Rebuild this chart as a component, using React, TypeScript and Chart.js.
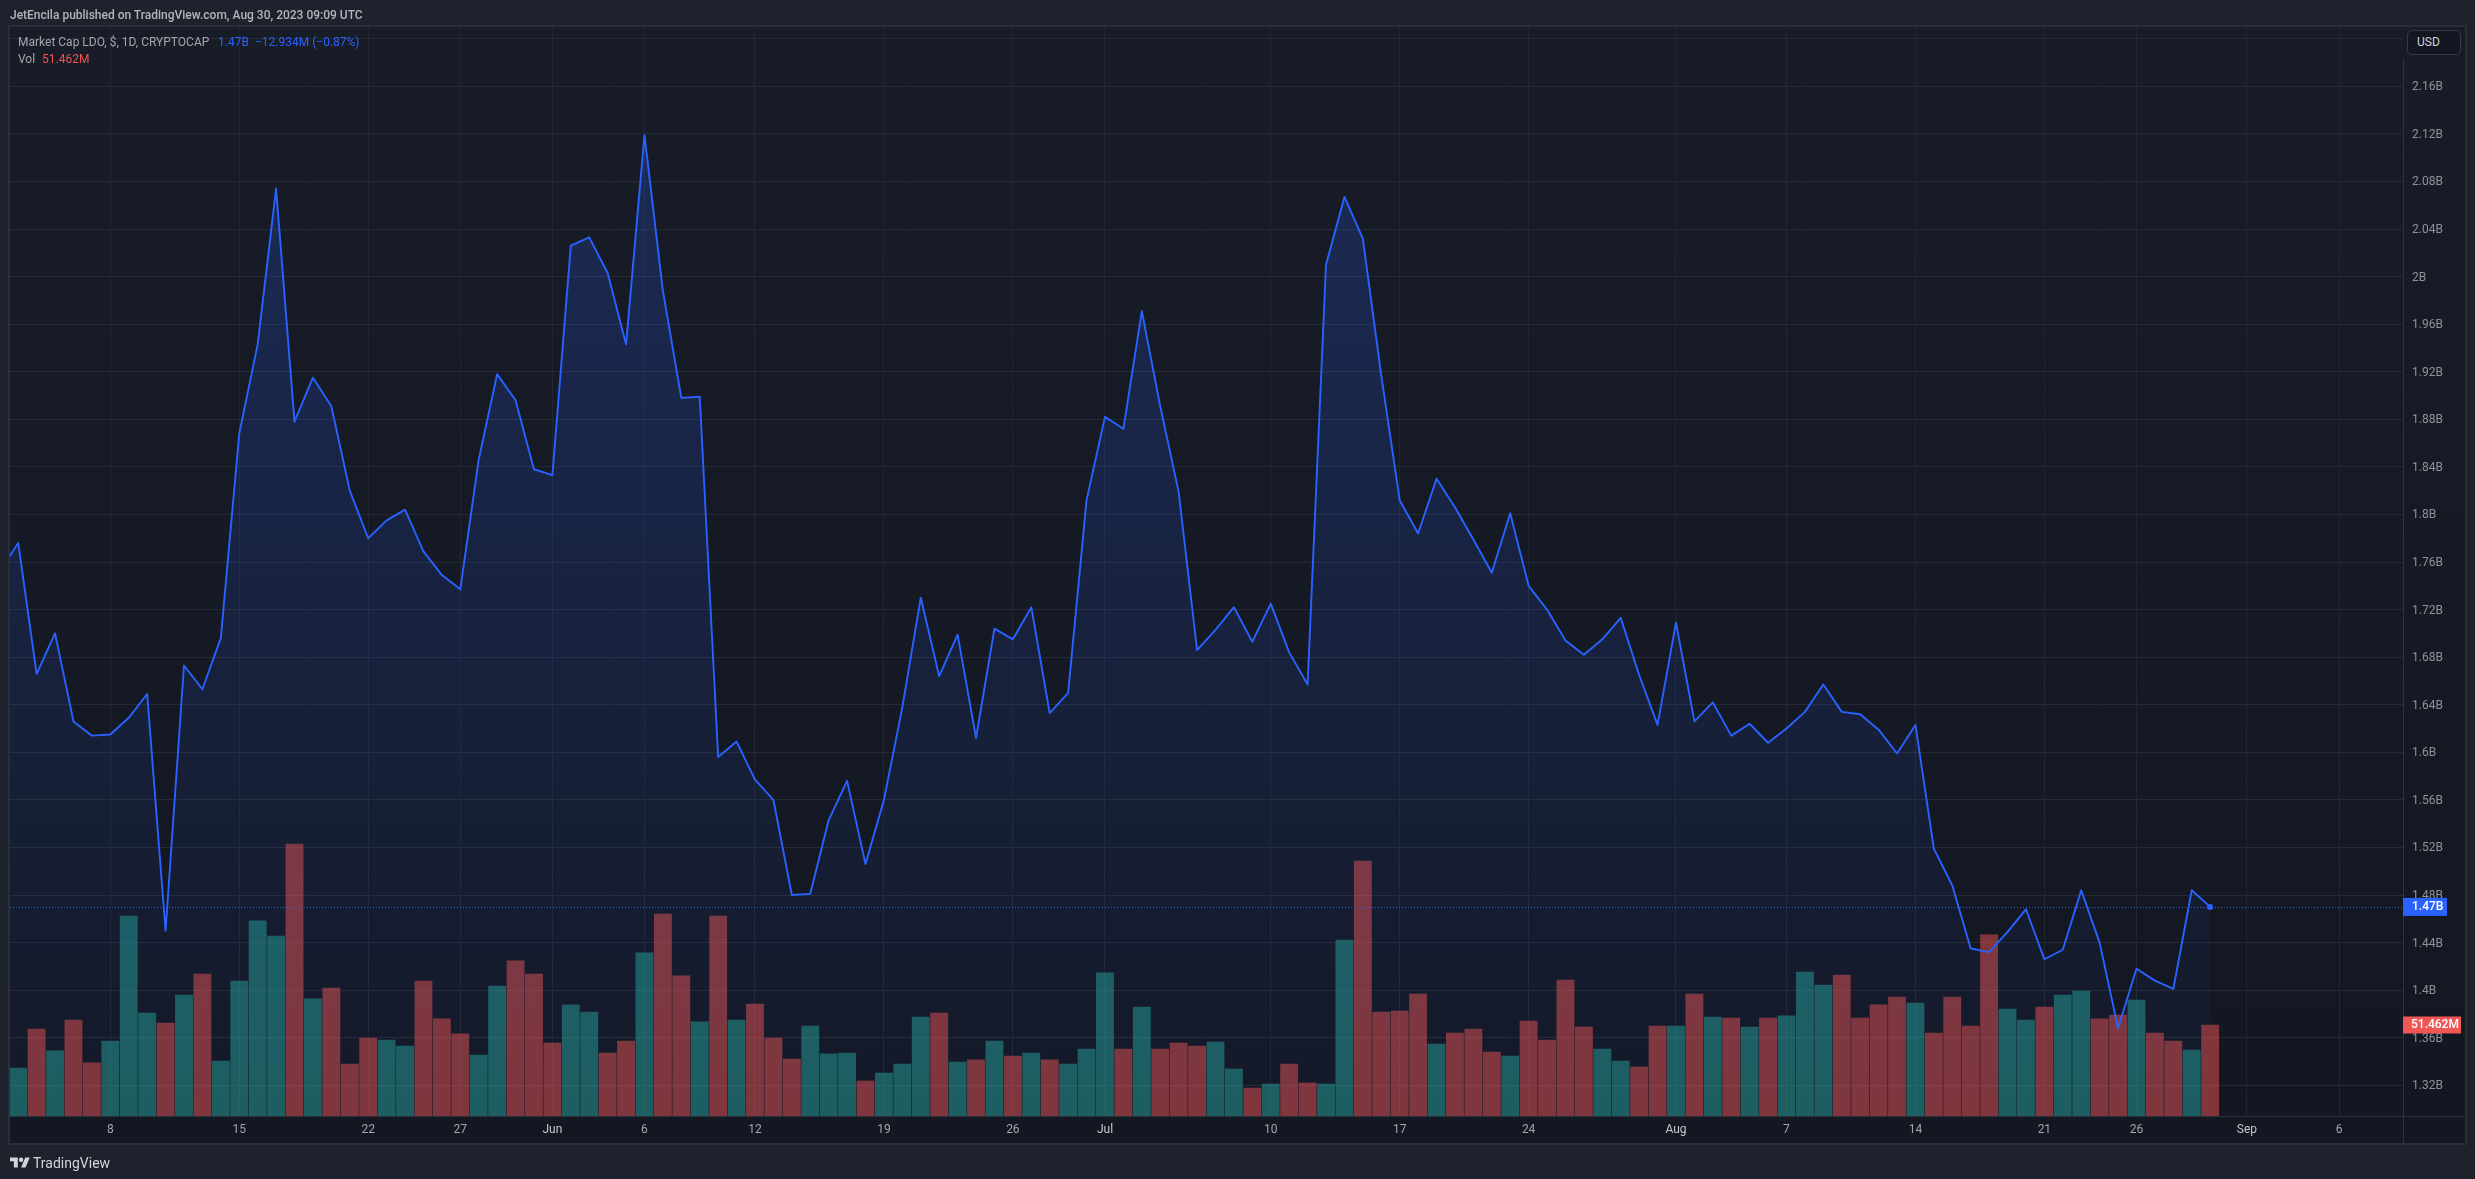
import React, { useEffect, useRef } from "react";
import { Chart, registerables } from "chart.js";

Chart.register(...registerables);

// Daily market cap in billions USD, May 2 to Aug 30 2023
const marketCap = [
  1.752, 1.776, 1.666, 1.7, 1.626, 1.614, 1.615, 1.629, 1.649, 1.45, 1.673, 1.653, 1.696, 1.868, 1.943, 2.074,
  1.878, 1.915, 1.891, 1.82, 1.78, 1.795, 1.804, 1.769, 1.749, 1.737, 1.846, 1.918, 1.896, 1.838, 1.833, 2.026,
  2.033, 2.003, 1.943, 2.119, 1.988, 1.898, 1.899, 1.596, 1.609, 1.577, 1.56, 1.48, 1.481, 1.543, 1.576, 1.506,
  1.56, 1.638, 1.73, 1.664, 1.699, 1.612, 1.704, 1.695, 1.722, 1.633, 1.65, 1.812, 1.882, 1.872, 1.971, 1.891,
  1.819, 1.686, 1.703, 1.722, 1.693, 1.725, 1.684, 1.657, 2.01, 2.067, 2.032, 1.917, 1.812, 1.784, 1.83, 1.806,
  1.779, 1.751, 1.801, 1.74, 1.72, 1.694, 1.682, 1.695, 1.713, 1.665, 1.623, 1.709, 1.626, 1.642, 1.614, 1.624,
  1.608, 1.62, 1.634, 1.657, 1.634, 1.632, 1.619, 1.599, 1.623, 1.519, 1.488, 1.435, 1.432, 1.449, 1.468, 1.426,
  1.434, 1.484, 1.44, 1.368, 1.418, 1.408, 1.401, 1.484, 1.47,
];

// Daily volume in millions USD, May 3 to Aug 30 2023
const volume = [
  27.1, 49.2, 36.8, 54.3, 30.0, 42.4, 113.1, 58.2, 52.6, 68.4, 80.3, 31.1, 76.3, 110.3, 101.8, 153.8, 66.2, 72.4,
  29.4, 44.1, 43.0, 39.6, 76.3, 54.9, 46.4, 34.5, 73.5, 87.7, 80.3, 41.3, 62.8, 58.8, 35.6, 42.4, 92.2, 114.2, 79.2,
  53.2, 113.1, 54.3, 63.3, 44.1, 32.2, 50.9, 35.1, 35.6, 19.8, 24.3, 29.4, 56.0, 58.2, 30.5, 31.7, 42.4, 33.9, 35.6,
  31.7, 29.4, 37.9, 80.9, 37.9, 61.6, 37.9, 41.3, 39.6, 41.8, 26.6, 15.8, 18.1, 29.4, 18.7, 18.1, 99.5, 144.2, 58.8,
  59.4, 69.0, 40.7, 46.9, 49.2, 36.2, 33.9, 53.7, 43.0, 76.9, 50.3, 37.9, 31.1, 27.7, 50.9, 50.9, 69.0, 56.0, 55.4,
  50.3, 55.4, 56.6, 81.4, 74.1, 79.7, 55.4, 62.8, 67.3, 63.9, 46.9, 67.3, 50.9, 102.4, 60.5, 54.3, 61.6, 68.4, 70.7,
  54.9, 57.1, 65.6, 46.9, 42.4, 37.3, 51.462,
];

// u = teal, d = red, one letter per volume bar
const volumeSide = (
  "ududduuudu" + "duuuududdd" + "uuddduuddd" + "uudduddudu" + "ddduuuduuu" + "dudududuuu" +
  "duddduudud" + "duuddddudd" + "dudddduudd" + "udududuuud" + "dddudddduu" + "duudduddud"
).split("");

const tickDays = [6, 13, 20, 25, 30, 35, 41, 48, 55, 60, 69, 76, 83, 91, 97, 104, 111, 116, 122, 127];
const tickLabels = ["8", "15", "22", "27", "Jun", "6", "12", "19", "26", "Jul", "10", "17", "24", "Aug", "7", "14", "21", "26", "Sep", "6"];
const monthLabels = ["Jun", "Jul", "Aug", "Sep"];

const priceTicks = [2.2, 2.16, 2.12, 2.08, 2.04, 2, 1.96, 1.92, 1.88, 1.84, 1.8, 1.76, 1.72, 1.68, 1.64, 1.6, 1.56, 1.52, 1.48, 1.44, 1.4, 1.36, 1.32];

const lastPrice = 1.47;
const lastPriceLabel = "1.47B";
const lastVolume = 51.462;
const lastVolumeLabel = "51.462M";

const UI_FONT = "Roboto, sans-serif";
const W = 2475;
const H = 1179;

const backdrop = {
  id: "backdrop",
  beforeDraw(chart: any) {
    const c = chart.ctx;
    c.save();
    c.fillStyle = "#1e222d";
    c.fillRect(0, 0, W, H);
    const g = c.createLinearGradient(0, 27, 0, 1143);
    g.addColorStop(0, "#181c27");
    g.addColorStop(1, "#131722");
    c.fillStyle = g;
    c.fillRect(10, 27, 2455, 1116);
    c.fillStyle = "#131722";
    c.fillRect(10, 1116, 2393, 27);
    c.strokeStyle = "#2a2e39";
    c.lineWidth = 2;
    c.strokeRect(9, 26, 2457, 1118);
    c.restore();
  },
  afterDraw(chart: any) {
    const c = chart.ctx;
    const a = chart.chartArea;
    c.save();
    c.strokeStyle = "#2e323d";
    c.lineWidth = 1;
    c.beginPath();
    c.moveTo(a.left, a.bottom + 0.5);
    c.lineTo(2465, a.bottom + 0.5);
    c.moveTo(a.right + 0.5, 59);
    c.lineTo(a.right + 0.5, 1143);
    c.stroke();

    const yP = chart.scales.y.getPixelForValue(lastPrice);
    const yV = chart.scales.vol.getPixelForValue(lastVolume);

    c.strokeStyle = "#2962ff";
    c.setLineDash([1, 2]);
    c.beginPath();
    c.moveTo(a.left, Math.round(yP) + 0.5);
    c.lineTo(a.right, Math.round(yP) + 0.5);
    c.stroke();
    c.setLineDash([]);

    c.font = "500 12px " + UI_FONT;
    c.textBaseline = "middle";
    c.textAlign = "left";

    c.fillStyle = "#2962ff";
    c.fillRect(a.right, yP - 9, 44, 18);
    c.fillStyle = "#ffffff";
    c.fillText(lastPriceLabel, a.right + 9, yP + 0.5);

    c.fillStyle = "#f05654";
    c.fillRect(a.right, yV - 8.5, 58, 17);
    c.fillStyle = "#ffffff";
    c.fillText(lastVolumeLabel, a.right + 8, yV + 0.5);
    c.restore();
  },
};

const textBase: React.CSSProperties = {
  position: "absolute",
  fontFamily: UI_FONT,
  whiteSpace: "nowrap",
  lineHeight: "16px",
};

export default function App() {
  const ref = useRef<HTMLCanvasElement | null>(null);

  useEffect(() => {
    document.body.style.margin = "0";
    document.body.style.background = "#1e222d";
    const last = marketCap.length - 1;
    const chart = new Chart(ref.current as HTMLCanvasElement, {
      type: "bar",
      data: {
        datasets: [
          {
            type: "line",
            label: "Market Cap LDO",
            data: marketCap.map((y, i) => ({ x: i, y })),
            yAxisID: "y",
            order: 0,
            borderColor: "#2962ff",
            borderWidth: 1.9,
            borderJoinStyle: "round",
            tension: 0,
            pointRadius: (c: any) => (c.dataIndex === last ? 3 : 0),
            pointBackgroundColor: "#2962ff",
            pointBorderWidth: 0,
            fill: "start",
            backgroundColor: (c: any) => {
              const area = c.chart.chartArea;
              if (!area) return "rgba(41,98,255,0.1)";
              const g = c.chart.ctx.createLinearGradient(0, 135, 0, area.bottom);
              g.addColorStop(0, "rgba(41,98,255,0.22)");
              g.addColorStop(1, "rgba(41,98,255,0.02)");
              return g;
            },
          } as any,
          {
            type: "bar",
            label: "Vol",
            data: volume.map((y, i) => ({ x: i + 1, y })),
            yAxisID: "vol",
            order: 1,
            barThickness: 17.2,
            backgroundColor: volumeSide.map((s) =>
              s === "u" ? "rgba(38,166,154,0.5)" : "rgba(239,83,80,0.5)"
            ),
          } as any,
        ],
      },
      plugins: [backdrop],
      options: {
        responsive: false,
        animation: false,
        devicePixelRatio: 1,
        layout: { padding: { left: 10, right: 10, top: 27, bottom: 36 } },
        plugins: { legend: { display: false }, title: { display: false }, tooltip: { enabled: false } },
        scales: {
          x: {
            type: "linear",
            offset: false,
            bounds: "data",
            min: 0.554,
            max: 130.47,
            afterBuildTicks: (s: any) => {
              s.ticks = tickDays.map((value) => ({ value }));
            },
            afterFit: (s: any) => {
              s.height = 27;
            },
            grid: { color: "#222631", drawTicks: false, lineWidth: 1, offset: false },
            border: { display: false },
            ticks: {
              autoSkip: false,
              maxRotation: 0,
              padding: 7,
              font: { family: UI_FONT, size: 12 },
              color: (c: any) => (monthLabels.includes(c.tick?.label) ? "#c4c7ce" : "#a3a6af"),
              callback: (v: any) => tickLabels[tickDays.indexOf(v)] ?? "",
            },
          },
          y: {
            type: "linear",
            position: "right",
            bounds: "data",
            min: 1.29419,
            max: 2.20985,
            afterBuildTicks: (s: any) => {
              s.ticks = priceTicks.map((value) => ({ value }));
            },
            afterFit: (s: any) => {
              s.width = 62;
            },
            grid: { color: "#262a35", drawTicks: false, lineWidth: 1 },
            border: { display: false },
            ticks: {
              autoSkip: false,
              padding: 9,
              labelOffset: 1,
              font: { family: UI_FONT, size: 12 },
              color: "#8f929b",
              callback: (v: any) => (v > 2.19 ? "" : v + "B"),
            },
          },
          vol: {
            type: "linear",
            display: false,
            bounds: "data",
            min: 0,
            max: 615.8,
          },
        },
      } as any,
    });
    return () => chart.destroy();
  }, []);

  return (
    <div style={{ position: "absolute", left: 0, top: 0, width: W, height: H, overflow: "hidden" }}>
      <canvas ref={ref} width={W} height={H} style={{ display: "block", width: W, height: H }} />
      <div style={{ ...textBase, left: 10, top: 7, fontSize: 12, fontWeight: 500, color: "#b2b5be" }}>
        JetEncila published on TradingView.com, Aug 30, 2023 09:09 UTC
      </div>
      <div style={{ ...textBase, left: 18, top: 34, fontSize: 12, color: "#a3a6af" }}>
        Market Cap LDO, $, 1D, CRYPTOCAP
      </div>
      <div style={{ ...textBase, left: 218, top: 34, fontSize: 12, color: "#2962ff" }}>1.47B</div>
      <div style={{ ...textBase, left: 255, top: 34, fontSize: 12, color: "#2962ff" }}>−12.934M (−0.87%)</div>
      <div style={{ ...textBase, left: 18, top: 51, fontSize: 12, color: "#a3a6af" }}>Vol</div>
      <div style={{ ...textBase, left: 42, top: 51, fontSize: 12, color: "#ef5350" }}>51.462M</div>
      <div
        style={{
          position: "absolute",
          left: 2407,
          top: 30,
          width: 54,
          height: 25,
          boxSizing: "border-box",
          border: "1px solid #363a45",
          borderRadius: 5,
          background: "#131722",
          color: "#d1d4dc",
          fontFamily: UI_FONT,
          fontSize: 12,
          lineHeight: "23px",
          paddingLeft: 9,
        }}
      >
        USD
      </div>
      <svg style={{ position: "absolute", left: 10, top: 1155 }} width="20" height="16" viewBox="0 0 36 28">
        <path d="M14 22H7V11H0V4h14v18zM28 22h-8l7.5-18h8L28 22z" fill="#d1d4dc" />
        <circle cx="20" cy="8" r="4" fill="#d1d4dc" />
      </svg>
      <div style={{ ...textBase, left: 33, top: 1155, fontSize: 14, color: "#d1d4dc" }}>TradingView</div>
    </div>
  );
}
